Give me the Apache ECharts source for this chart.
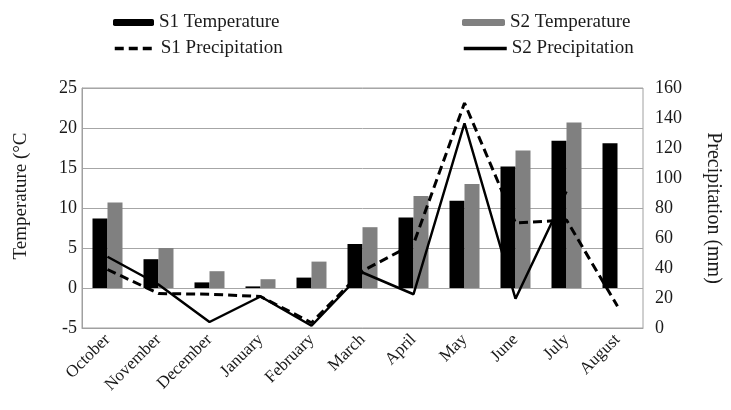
<!DOCTYPE html>
<html><head><meta charset="utf-8">
<script src="https://cdn.jsdelivr.net/npm/echarts@6/dist/echarts.min.js"></script>
<style>html,body{margin:0;padding:0;background:#fff}#c{width:731px;height:410px}</style>
</head><body><div id="c"></div>
<script>
var categories = ['October','November','December','January','February','March','April','May','June','July','August'];
var s1Temp = [8.7, 3.6, 0.7, 0.2, 1.3, 5.5, 8.8, 10.9, 15.2, 18.4, 18.1];
var s2Temp = [10.7, 5.0, 2.1, 1.1, 3.3, 7.6, 11.5, 13.0, 17.2, 20.7, null];
var s1Precip = [39, 23, 22.5, 21, 3.5, 38, 56, 150, 70, 72, 14.5];
var s2Precip = [47.5, 29, 4, 21, 1.5, 37, 22.5, 136.5, 19.5, 91, null];
var tempTicks = {min: -5, max: 25, interval: 5};
var precipTicks = {min: 0, max: 160, interval: 20};

var FONT = "'Liberation Serif','Times New Roman',serif";
var TXT = '#1a1a1a';
var chart = echarts.init(document.getElementById('c'), null, {renderer: 'canvas'});
function lg(name, left, top, w, h, lineItem) {
  var item = {name: name};
  if (lineItem) { item.itemStyle = {opacity: 0}; item.lineStyle = {width: 3.5}; }
  return {data: [item], left: left, top: top, itemWidth: w, itemHeight: h, itemGap: 5,
    textStyle: {fontFamily: FONT, fontSize: 19, color: TXT}, selectedMode: false, padding: 0};
}
chart.setOption({
  animation: false,
  legend: [
    lg('S1 Temperature', 113, 13, 41, 7),
    lg('S2 Temperature', 462, 13, 43, 7),
    lg('S1 Precipitation', 113, 39, 41, 12, true),
    lg('S2 Precipitation', 462, 39, 43, 12, true)
  ],
  grid: {left: 82, right: 88, top: 88, bottom: 82, show: true, borderColor: '#a0a0a0', borderWidth: 1, containLabel: false},
  xAxis: {
    type: 'category', data: categories,
    axisLine: {onZero: false, lineStyle: {color: '#a0a0a0'}},
    axisTick: {show: false},
    axisLabel: {rotate: 45, margin: 9, fontFamily: FONT, fontSize: 17, color: TXT, interval: 0}
  },
  yAxis: [
    {type: 'value', min: tempTicks.min, max: tempTicks.max, interval: tempTicks.interval,
     name: 'Temperature (°C', nameLocation: 'middle', nameRotate: 90, nameGap: 51,
     nameTextStyle: {fontFamily: FONT, fontSize: 19, color: TXT, padding: [0, 0, 0, 24]},
     axisLine: {show: true, lineStyle: {color: '#a0a0a0'}}, axisTick: {show: false},
     axisLabel: {fontFamily: FONT, fontSize: 18, color: TXT, margin: 5},
     splitLine: {lineStyle: {color: '#a6a6a6', width: 1}}},
    {type: 'value', min: precipTicks.min, max: precipTicks.max, interval: precipTicks.interval,
     name: 'Precipitation (mm)', nameLocation: 'middle', nameRotate: -90, nameGap: 60,
     nameTextStyle: {fontFamily: FONT, fontSize: 20, color: TXT},
     axisLine: {show: false}, axisTick: {show: false},
     axisLabel: {fontFamily: FONT, fontSize: 18, color: TXT, margin: 12},
     splitLine: {show: false}}
  ],
  series: [
    {name: 'S1 Temperature', type: 'bar', data: s1Temp, barWidth: 15, barGap: '0%', itemStyle: {color: '#000'}, z: 2},
    {name: 'S2 Temperature', type: 'bar', data: s2Temp, barWidth: 15, barGap: '0%', itemStyle: {color: '#808080'}, z: 2},
    {name: 'S1 Precipitation', type: 'line', yAxisIndex: 1, data: s1Precip, symbol: 'none', z: 5,
     lineStyle: {color: '#000', width: 3, type: [9, 5]}, itemStyle: {color: '#000'}},
    {name: 'S2 Precipitation', type: 'line', yAxisIndex: 1, data: s2Precip, symbol: 'none', z: 5,
     lineStyle: {color: '#000', width: 2.5}, itemStyle: {color: '#000'}}
  ]
});
</script></body></html>
